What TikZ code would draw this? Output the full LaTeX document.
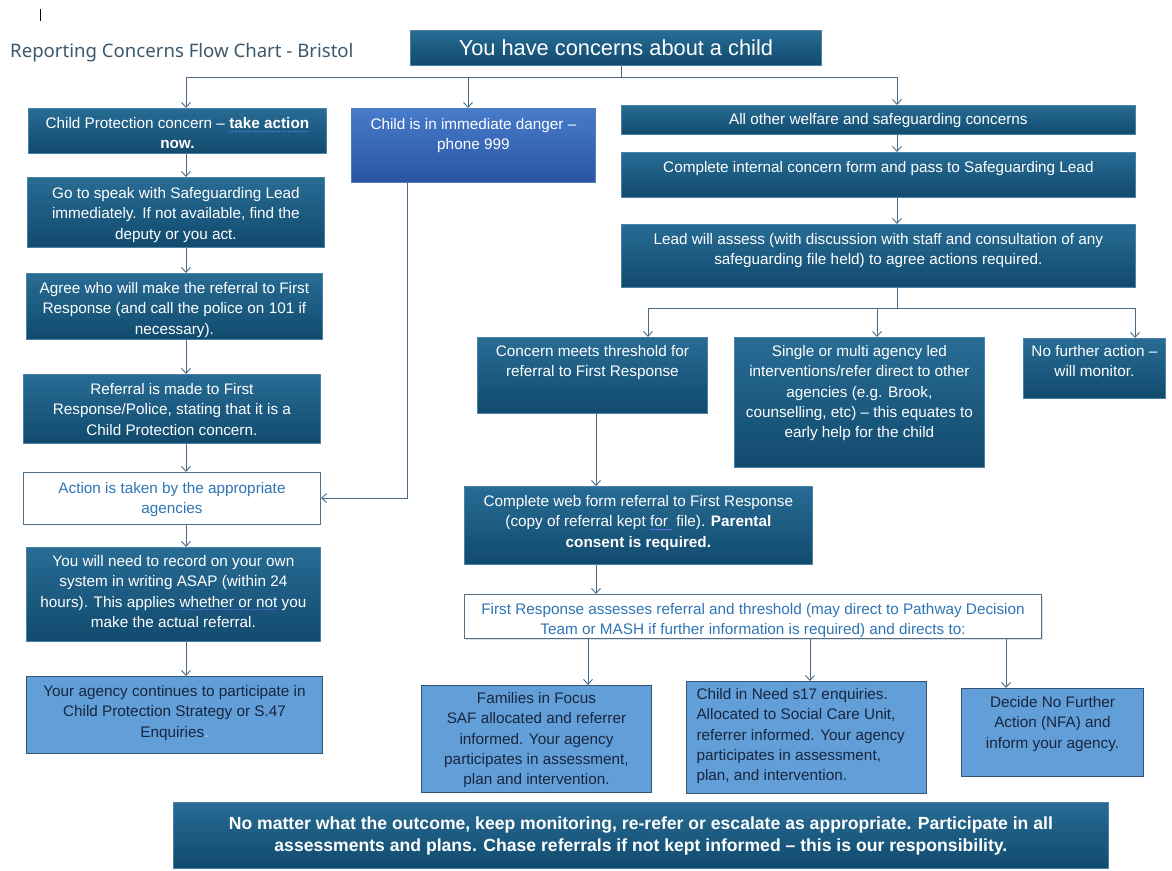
\documentclass[tikz,border=0pt]{standalone}
\usepackage{fontspec}
\setmainfont{Liberation Sans}
\newfontfamily\titlefont{Noto Sans}
\usetikzlibrary{arrows.meta,shadows}
\definecolor{dtop}{RGB}{40,108,148}
\definecolor{dbot}{RGB}{17,74,110}
\definecolor{dedge}{RGB}{72,130,168}
\definecolor{ltfill}{RGB}{98,158,216}
\definecolor{ltedge}{RGB}{52,84,118}
\definecolor{lttext}{RGB}{24,38,62}
\definecolor{whtext}{RGB}{46,117,182}
\definecolor{whedge}{RGB}{82,112,140}
\definecolor{imtop}{RGB}{70,124,202}
\definecolor{imbot}{RGB}{42,84,164}
\definecolor{imedge}{RGB}{84,124,184}
\definecolor{linec}{RGB}{72,106,136}
\definecolor{titlec}{RGB}{58,88,110}
\definecolor{sqblue}{RGB}{90,110,230}
\definecolor{faint}{RGB}{200,225,245}
\newcommand{\bodyfont}{\fontsize{15.3}{20.3}\selectfont}
% underline marks: dash length, gap, text
\newcommand{\ulmark}[3]{%
  \setbox0=\hbox{#3}%
  \rlap{\color{sqblue}\raisebox{-3pt}{\hbox to \wd0{\xleaders\hbox{\rule{#1}{0.9pt}\kern#2}\hfil}}}%
  \box0\relax}
% style, name, x1, y1, x2, y2, top pad, text
\newcommand{\flowbox}[8]{%
  \pgfmathsetmacro{\bw}{#5-#3}%
  \pgfmathsetmacro{\bh}{#6-#4}%
  \node[#1, anchor=north west, inner sep=0pt, minimum width=\bw pt, minimum height=\bh pt] (#2) at (#3,#4)
    {\parbox[c][\bh pt][t]{\bw pt}{\centering\vspace*{#7pt}#8\par}};%
}
\begin{document}
\begin{tikzpicture}[x=1pt,y=-1pt,
  darkbox/.style={top color=dtop, bottom color=dbot, draw=dedge, line width=0.8pt, text=white, font=\bodyfont},
  lightbox/.style={fill=ltfill, draw=ltedge, line width=1pt, text=lttext, font=\bodyfont},
  whitebox/.style={fill=white, draw=whedge, line width=1pt, text=whtext, font=\bodyfont},
  immbox/.style={top color=imtop, bottom color=imbot, draw=imedge, line width=0.8pt, text=white, font=\bodyfont},
  conn/.style={draw=linec, line width=0.9pt},
  arr/.style={conn, -{Straight Barb[length=5pt,width=9pt]}}
]
\useasboundingbox (0,0) rectangle (1172,870);
\fill[white] (0,0) rectangle (1172,870);

\draw[black, line width=0.8pt] (40.5,9) -- (40.5,21);
\node[anchor=base west, inner sep=0pt, text=titlec, font=\titlefont\fontsize{18.6}{22}\selectfont] (title) at (10,57) {Reporting Concerns Flow Chart - Bristol};

\node[darkbox, anchor=north west, inner sep=0pt, minimum width=411pt, minimum height=35pt, font=\fontsize{21.8}{24}\selectfont] (top) at (410,30) {You have concerns about a child};

% left column
\flowbox{darkbox}{cp}{28}{108}{326}{153}{9}{Child Protection concern – \textbf{\ulmark{2pt}{1pt}{take action}}\\ \textbf{now.}}
\flowbox{darkbox}{go}{27}{177}{324}{247}{10}{Go to speak with Safeguarding Lead\\ immediately. If not available, find the\\ deputy or you act.}
\flowbox{darkbox}{agree}{26}{273}{322}{339}{9}{Agree who will make the referral to First\\ Response (and call the police on 101 if\\ necessary).}
\flowbox{darkbox}{refer}{23}{374}{320}{443}{9}{Referral is made to First\\ Response/Police, stating that it is a\\ Child Protection concern.}
\flowbox{whitebox}{act}{23}{472}{320}{524}{10}{Action is taken by the appropriate\\ agencies}
\flowbox{darkbox}{rec}{26}{547}{320}{641}{8}{You will need to record on your own\\ system in writing ASAP (within 24\\ hours). This applies \ulmark{1.2pt}{1pt}{whether or not} you\\ make the actual referral.}
\flowbox{lightbox}{agency}{26}{676}{322}{753}{9}{Your agency continues to participate in\\ Child Protection Strategy or S.47\\ Enquiries\textcolor{faint}{.}}

% middle
\flowbox{immbox}{imm}{351}{108}{595}{182}{10}{Child is in immediate danger –\\ phone 999}

% right column
\flowbox{darkbox}{other}{621}{105}{1135}{134}{8}{All other welfare and safeguarding concerns}
\flowbox{darkbox}{internal}{621}{152}{1135}{197}{9}{Complete internal concern form and pass to Safeguarding Lead}
\flowbox{darkbox}{lead}{621}{224}{1135}{287}{9}{Lead will assess (with discussion with staff and consultation of any\\ safeguarding file held) to agree actions required.}
\flowbox{darkbox}{meets}{477}{337}{707}{413}{8}{Concern meets threshold for\\ referral to First Response}
\flowbox{darkbox}{single}{734}{337}{984}{467}{8}{Single or multi agency led\\ interventions/refer direct to other\\ agencies (e.g. Brook,\\ counselling, etc) – this equates to\\ early help for the child}
\flowbox{darkbox}{nfa}{1023}{338}{1165}{398}{7}{No further action –\\ will monitor.}
\flowbox{darkbox}{web}{464}{486}{812}{564}{9}{Complete web form referral to First Response\\ (copy of referral kept \ulmark{1pt}{0pt}{for\ }\ file). \textbf{Parental}\\ \textbf{consent is required.}}
\flowbox{whitebox,drop shadow={shadow xshift=1.5pt,shadow yshift=-1.5pt,opacity=0.25,fill=gray}}{fr}{464}{594}{1041}{638}{9}{First Response assesses referral and threshold (may direct to Pathway Decision\\ Team or MASH if further information is required) and directs to:}
\flowbox{lightbox}{fam}{421}{685}{651}{792}{7}{Families in Focus\\ SAF allocated and referrer\\ informed. Your agency\\ participates in assessment,\\ plan and intervention.}
\flowbox{lightbox}{cin}{686}{681}{926}{793}{7}{\raggedright\leftskip=10pt Child in Need s17 enquiries.\\ Allocated to Social Care Unit,\\ referrer informed. Your agency\\ participates in assessment,\\ plan, and intervention.}
\flowbox{lightbox}{decide}{961}{688}{1143}{776}{8}{Decide No Further\\ Action (NFA) and\\ inform your agency.}
\flowbox{darkbox,font=\fontsize{17.6}{22}\selectfont\bfseries}{bottom}{173}{802}{1108}{868}{14}{No matter what the outcome, keep monitoring, re-refer or escalate as appropriate. Participate in all\\ assessments and plans. Chase referrals if not kept informed – this is our responsibility.}

% junction coordinates
\coordinate (j0) at (621,77);
\coordinate (jL) at (186,77);
\coordinate (jM) at (468,77);
\coordinate (jR) at (897,77);
\coordinate (colL) at (186,0);
\coordinate (colR) at (897,0);
\coordinate (bend) at (407,498);
\coordinate (b0) at (897,308);
\coordinate (b1) at (648,308);
\coordinate (b2) at (877,308);
\coordinate (b3) at (1135,308);
\coordinate (colW) at (596,0);
\coordinate (f1) at (588,0);
\coordinate (f2) at (810,0);
\coordinate (f3) at (1006,0);

% top distribution
\draw[conn] (top.south -| j0) -- (j0);
\draw[conn] (jL) -- (jR);
\draw[arr] (jL) -- (cp.north -| jL);
\draw[arr] (jM) -- (imm.north -| jM);
\draw[arr] (jR) -- (other.north -| jR);

% left column
\draw[arr] (cp.south -| colL) -- (go.north -| colL);
\draw[arr] (go.south -| colL) -- (agree.north -| colL);
\draw[arr] (agree.south -| colL) -- (refer.north -| colL);
\draw[arr] (refer.south -| colL) -- (act.north -| colL);
\draw[arr] (act.south -| colL) -- (rec.north -| colL);
\draw[arr] (rec.south -| colL) -- (agency.north -| colL);

% immediate danger to action
\draw[arr] (imm.south -| bend) -- (bend) -- (bend -| act.east);

% right column
\draw[arr] (other.south -| colR) -- (internal.north -| colR);
\draw[arr] (internal.south -| colR) -- (lead.north -| colR);
\draw[conn] (lead.south -| b0) -- (b0);
\draw[conn] (b1) -- (b3);
\draw[arr] (b1) -- (meets.north -| b1);
\draw[arr] (b2) -- (single.north -| b2);
\draw[arr] (b3) -- (nfa.north -| b3);

% threshold path
\draw[arr] (meets.south -| colW) -- (web.north -| colW);
\draw[arr] (web.south -| colW) -- (fr.north -| colW);
\draw[arr] (fr.south -| f1) -- (fam.north -| f1);
\draw[arr] (fr.south -| f2) -- (cin.north -| f2);
\draw[arr] (fr.south -| f3) -- (decide.north -| f3);
\end{tikzpicture}
\end{document}
